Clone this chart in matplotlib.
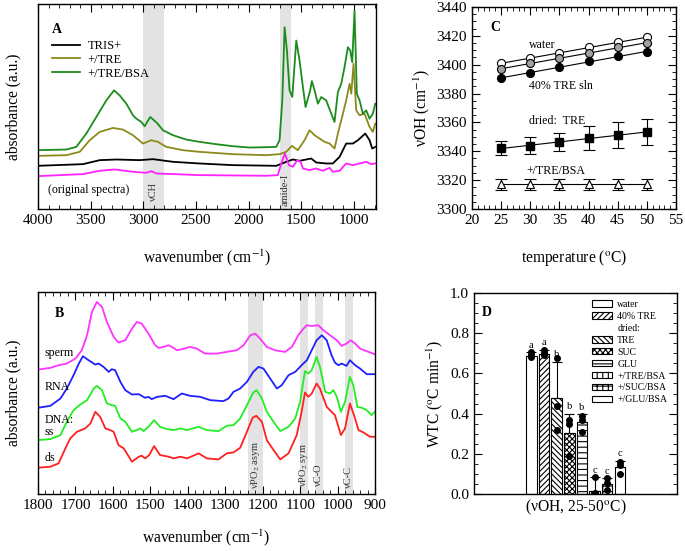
import numpy as np
import matplotlib
matplotlib.use('Agg')
import matplotlib.pyplot as plt
from matplotlib.ticker import MultipleLocator, NullLocator
from matplotlib.patches import Patch

plt.rcParams['font.family'] = ['Liberation Serif', 'DejaVu Serif']
plt.rcParams['mathtext.fontset'] = 'stix'
plt.rcParams['hatch.linewidth'] = 0.8
plt.rcParams['axes.linewidth'] = 1.0

# ---------------- Panel A data (original spectra) ----------------
wnA_bsa = [4000, 3731, 3636, 3541, 3446, 3351, 3278, 3225, 3161, 3098, 3066, 3019, 2987, 2934, 2892, 2870,
           2813, 2718, 2592, 2465, 2307, 2149, 1991, 1832, 1737, 1706, 1680, 1658, 1636, 1611, 1585, 1547,
           1516, 1484, 1459, 1415, 1399, 1373, 1342, 1310, 1263, 1215, 1184, 1152, 1120, 1089, 1057, 1035,
           1016, 994, 972, 946, 915, 883, 851, 820, 797]
absA_bsa = [1.77, 1.79, 1.87, 2.27, 2.77, 3.27, 3.57, 3.42, 3.17, 2.82, 2.72, 2.62, 2.49, 2.77, 2.65, 2.59,
            2.37, 2.22, 2.09, 2.02, 1.95, 1.89, 1.85, 1.86, 1.87, 2.07, 3.27, 5.47, 4.77, 3.57, 3.37, 5.07,
            4.47, 3.67, 3.07, 3.57, 3.85, 3.57, 3.17, 3.37, 3.27, 2.87, 2.62, 3.52, 3.77, 4.27, 4.87, 4.77,
            4.42, 5.97, 3.47, 3.27, 2.87, 2.97, 2.72, 2.87, 3.17]
wnA_tre = [4000, 3731, 3604, 3509, 3414, 3288, 3193, 3098, 3003, 2924, 2861, 2782, 2623, 2465, 2149, 1832,
           1706, 1643, 1589, 1532, 1469, 1421, 1373, 1326, 1278, 1231, 1184, 1152, 1104, 1073, 1041, 1025,
           1003, 978, 946, 899, 851, 820, 797]
absA_tre = [1.60, 1.62, 1.72, 2.07, 2.32, 2.44, 2.39, 2.22, 1.97, 2.07, 2.02, 1.87, 1.77, 1.72, 1.65, 1.62,
            1.65, 1.72, 1.90, 1.77, 2.07, 2.37, 2.22, 2.12, 2.02, 1.97, 1.82, 2.27, 2.87, 3.27, 3.77, 3.47,
            4.37, 2.97, 2.82, 2.87, 2.47, 2.32, 2.57]
wnA_tris = [4000, 3573, 3414, 3256, 3035, 2908, 2718, 2465, 2149, 1737, 1643, 1580, 1516, 1405, 1358, 1263,
            1200, 1136, 1073, 1010, 962, 892, 851, 826, 797]
absA_tris = [1.30, 1.35, 1.47, 1.49, 1.47, 1.50, 1.42, 1.37, 1.32, 1.30, 1.42, 1.49, 1.45, 1.52, 1.40, 1.37,
             1.37, 1.57, 1.97, 1.97, 2.07, 2.27, 2.07, 1.82, 1.87]
wnA_bsa_only = [4000, 3573, 3414, 3272, 3098, 2972, 2924, 2877, 2465, 1832, 1722, 1690, 1655, 1617, 1579,
                1538, 1506, 1484, 1421, 1358, 1294, 1231, 1200, 1136, 1073, 1010, 883, 835, 797]
absA_bsa_only = [0.99, 1.05, 1.15, 1.19, 1.12, 1.09, 1.14, 1.07, 1.02, 1.00, 1.02, 1.37, 1.67, 1.32, 1.27,
                 1.47, 1.42, 1.22, 1.17, 1.22, 1.15, 1.24, 1.12, 1.15, 1.37, 1.32, 1.42, 1.35, 1.37]

# ---------------- Panel B data (normalised spectra) ----------------
wnB_sperm = [1800, 1767, 1745, 1723, 1700, 1683, 1669, 1656, 1643, 1629, 1616, 1598, 1585, 1567, 1549, 1536,
             1523, 1505, 1487, 1478, 1465, 1451, 1438, 1429, 1416, 1394, 1376, 1354, 1322, 1296, 1269, 1251,
             1233, 1220, 1207, 1189, 1167, 1140, 1122, 1105, 1091, 1082, 1069, 1051, 1038, 1020, 1002, 989,
             976, 965, 953, 940, 922, 900]
absB_sperm = [3.74, 3.79, 3.87, 3.92, 4.07, 4.32, 4.77, 5.47, 5.77, 5.62, 5.17, 4.72, 4.55, 4.62, 4.97, 5.17,
              5.12, 4.82, 4.47, 4.39, 4.42, 4.47, 4.39, 4.32, 4.35, 4.42, 4.37, 4.22, 4.22, 4.27, 4.32, 4.47,
              4.77, 4.82, 4.67, 4.42, 4.32, 4.27, 4.42, 4.77, 4.97, 5.07, 5.05, 5.07, 4.92, 4.77, 4.62, 4.45,
              4.52, 4.62, 4.52, 4.37, 4.29, 4.20]
wnB_rna = [1800, 1767, 1740, 1723, 1705, 1691, 1680, 1665, 1647, 1638, 1625, 1611, 1603, 1594, 1580, 1567,
           1549, 1531, 1514, 1505, 1496, 1482, 1460, 1438, 1416, 1394, 1367, 1340, 1305, 1291, 1278, 1260,
           1242, 1225, 1211, 1198, 1180, 1162, 1149, 1131, 1113, 1096, 1082, 1069, 1056, 1042, 1029, 1016,
           1007, 998, 989, 976, 967, 953, 940, 922, 900]
absB_rna = [2.59, 2.65, 2.87, 3.17, 3.57, 3.92, 4.14, 4.02, 3.89, 3.92, 3.82, 3.67, 3.75, 3.72, 3.37, 3.12,
            2.99, 3.00, 2.89, 2.92, 2.85, 2.92, 2.95, 2.85, 3.02, 2.95, 2.92, 2.82, 2.79, 2.87, 3.07, 3.17,
            3.37, 3.67, 3.82, 3.77, 3.47, 3.17, 3.27, 3.57, 3.67, 3.87, 4.02, 4.32, 4.62, 4.77, 4.62, 4.17,
            3.95, 3.87, 3.92, 3.85, 4.02, 3.87, 3.77, 3.60, 3.60]
wnB_ss = [1800, 1767, 1740, 1723, 1705, 1687, 1669, 1651, 1643, 1629, 1616, 1603, 1594, 1580, 1567, 1549,
          1536, 1527, 1518, 1505, 1490, 1474, 1456, 1438, 1420, 1402, 1371, 1349, 1318, 1296, 1278, 1260,
          1242, 1225, 1216, 1202, 1189, 1171, 1153, 1131, 1113, 1100, 1087, 1078, 1069, 1056, 1047, 1033,
          1020, 1011, 1002, 991, 980, 967, 958, 947, 935, 922, 909, 900]
absB_ss = [1.62, 1.65, 1.77, 2.17, 2.52, 2.69, 2.82, 3.17, 3.25, 3.12, 2.72, 2.67, 2.65, 2.27, 2.17, 1.87,
           1.92, 1.97, 1.89, 2.02, 2.22, 2.02, 1.95, 1.92, 1.97, 1.92, 2.02, 1.92, 1.89, 2.05, 2.07, 2.27,
           2.67, 3.05, 3.12, 2.87, 2.47, 2.17, 1.89, 2.02, 2.27, 2.77, 3.69, 3.62, 3.72, 4.12, 3.82, 3.07,
           3.02, 3.12, 2.92, 2.47, 2.77, 3.52, 3.27, 2.62, 2.59, 2.52, 2.37, 2.47]
wnB_ds = [1800, 1767, 1745, 1727, 1714, 1696, 1674, 1660, 1647, 1634, 1620, 1607, 1598, 1585, 1571, 1549,
          1531, 1523, 1514, 1503, 1490, 1474, 1451, 1438, 1420, 1402, 1371, 1349, 1318, 1296, 1278, 1260,
          1242, 1227, 1217, 1202, 1189, 1171, 1153, 1131, 1109, 1096, 1087, 1078, 1069, 1056, 1047, 1029,
          1016, 1007, 991, 980, 967, 956, 944, 931, 913, 900]
absB_ds = [0.79, 0.82, 0.92, 1.37, 1.67, 1.87, 1.97, 2.12, 2.47, 2.32, 1.97, 1.92, 1.87, 1.47, 1.37, 0.97,
           1.12, 1.15, 1.07, 1.17, 1.44, 1.17, 1.12, 1.07, 1.12, 1.07, 1.22, 1.07, 1.04, 1.22, 1.25, 1.39,
           1.87, 2.29, 2.35, 2.17, 1.62, 1.32, 1.04, 1.22, 1.77, 2.47, 3.05, 2.92, 3.02, 3.32, 3.17, 2.62,
           2.47, 2.37, 1.77, 1.97, 2.72, 2.37, 1.92, 1.85, 1.72, 1.72]

# ---------------- Panel C data ----------------
tempC = [25, 30, 35, 40, 45, 50]
vOH_water = [3401.0, 3404.6, 3408.0, 3412.0, 3415.5, 3419.0]
vOH_grey = [3397.0, 3401.0, 3404.6, 3408.0, 3412.0, 3415.0]
vOH_tre40 = [3390.5, 3394.6, 3398.6, 3402.3, 3405.7, 3408.8]
vOH_dried_tre = [3342.0, 3344.0, 3346.5, 3349.0, 3351.3, 3353.2]
err_dried_tre = [4.8, 6.0, 6.2, 8.4, 8.8, 9.0]
vOH_tre_bsa = [3317.0, 3317.0, 3317.0, 3317.0, 3317.0, 3317.0]
err_tre_bsa = [3.5, 3.5, 3.5, 3.5, 3.5, 3.5]

# ---------------- Panel D data ----------------
groupsD = ['water', '40% TRE', 'TRE', 'SUC', 'GLU', '+/TRE/BSA', '+/SUC/BSA', '+/GLU/BSA']
wtc_mean = [0.685, 0.695, 0.478, 0.303, 0.357, 0.015, 0.048, 0.133]
wtc_err = [0.02, 0.023, 0.18, 0.097, 0.041, 0.068, 0.03, 0.032]
wtc_pts = [[0.705, 0.69, 0.68], [0.718, 0.70, 0.69], [0.678, 0.437, 0.32], [0.367, 0.35, 0.19],
           [0.387, 0.367, 0.308], [0.083, 0.005, 0.0], [0.078, 0.053, 0.02], [0.158, 0.145, 0.098]]
wtc_letters = ['a', 'a', 'b', 'b', 'b', 'c', 'c', 'c']

# ---------------- figure ----------------
W, H = 685, 551
fig = plt.figure(figsize=(W / 100, H / 100), dpi=100)


def box(l, t, r, b):
    return [l / W, 1 - b / H, (r - l) / W, (b - t) / H]


band = '#e3e3e3'
TICK = 11
LAB = 11.2
BANDTXT = 7.5
TXT = 8.6

# ---- Panel A ----
axA = fig.add_axes(box(38, 4, 376, 209))
axA.axvspan(3000, 2800, color=band, lw=0, zorder=0)
axA.axvspan(1700, 1600, color=band, lw=0, zorder=0)
axA.plot(wnA_tris, absA_tris, color='black', lw=1.3, label='TRIS+')
axA.plot(wnA_tre, absA_tre, color='#8c8a1c', lw=1.3, label='+/TRE')
axA.plot(wnA_bsa, absA_bsa, color='#1c8c1c', lw=1.3, label='+/TRE/BSA')
axA.plot(wnA_bsa_only, absA_bsa_only, color='#ff22ff', lw=1.3)
axA.set_xlim(4000, 790)
axA.set_ylim(0, 6.17)
axA.xaxis.set_major_locator(MultipleLocator(500))
axA.xaxis.set_minor_locator(MultipleLocator(100))
axA.yaxis.set_major_locator(NullLocator())
axA.tick_params(axis='x', which='both', direction='in', top=True, labelsize=TICK)
axA.tick_params(axis='x', which='major', length=6)
axA.tick_params(axis='x', which='minor', length=3)
axA.set_xlabel('wavenumber (cm$^{-1}$)', fontsize=LAB, labelpad=15)
axA.set_ylabel('absorbance (a.u.)', fontsize=LAB, labelpad=12)
axA.text(3870, 5.39, 'A', fontsize=10, fontweight='bold', va='center')
axA.text(3905, 0.57, '(original spectra)', fontsize=TXT, va='center')
axA.text(2900, 0.52, 'νCH', fontsize=BANDTXT, rotation=90, ha='center', va='center', color='#333333')
axA.text(1650, 0.57, 'amide-I', fontsize=BANDTXT, rotation=90, ha='center', va='center', color='#333333')
axA.legend(loc='upper left', bbox_to_anchor=(0.04, 0.825), frameon=False, fontsize=9,
           handlelength=2.3, labelspacing=0.15, handletextpad=0.6, borderpad=0, borderaxespad=0)

# ---- Panel B ----
axB = fig.add_axes(box(38, 292, 375, 494))
for lo, hi in [(1240, 1200), (1100, 1080), (1060, 1040), (980, 960)]:
    axB.axvspan(lo, hi, color=band, lw=0, zorder=0)
axB.plot(wnB_sperm, absB_sperm, color='#ff33ff', lw=1.3)
axB.plot(wnB_rna, absB_rna, color='#1f1fff', lw=1.3)
axB.plot(wnB_ss, absB_ss, color='#22ee22', lw=1.3)
axB.plot(wnB_ds, absB_ds, color='#ff2020', lw=1.3)
axB.set_xlim(1800, 900)
axB.set_ylim(0, 6.07)
axB.xaxis.set_major_locator(MultipleLocator(100))
axB.xaxis.set_minor_locator(MultipleLocator(20))
axB.yaxis.set_major_locator(NullLocator())
axB.tick_params(axis='x', which='both', direction='in', top=True, labelsize=TICK)
axB.tick_params(axis='x', which='major', length=6)
axB.tick_params(axis='x', which='minor', length=3)
axB.set_xlabel('wavenumber (cm$^{-1}$)', fontsize=LAB, labelpad=11)
axB.set_ylabel('absorbance (a.u.)', fontsize=LAB, labelpad=12)
axB.text(1754, 5.42, 'B', fontsize=10, fontweight='bold', va='center')
for s, yv in [('sperm', 4.25), ('RNA', 3.22), ('DNA:', 2.22), ('ss', 1.87), ('ds', 1.07)]:
    axB.text(1782, yv, s, fontsize=TXT, va='center')
axB.text(1220, 0.87, 'νPO$_2$ asym', fontsize=BANDTXT, rotation=90, ha='center', va='center', color='#333333')
axB.text(1090, 0.87, 'νPO$_2$ sym', fontsize=BANDTXT, rotation=90, ha='center', va='center', color='#333333')
axB.text(1050, 0.57, 'νC-O', fontsize=BANDTXT, rotation=90, ha='center', va='center', color='#333333')
axB.text(970, 0.52, 'νC-C', fontsize=BANDTXT, rotation=90, ha='center', va='center', color='#333333')

# ---- Panel C ----
axC = fig.add_axes(box(472, 7, 676, 209))
tC = np.array(tempC)
for vals, fc in [(vOH_water, 'white'), (vOH_grey, '#a0a0a0'), (vOH_tre40, 'black')]:
    p = np.polyfit(tC, vals, 1)
    axC.plot(tC, np.polyval(p, tC), color='black', lw=0.8, zorder=2)
    axC.plot(tC, vals, 'o', mfc=fc, mec='black', ms=5.8, mew=0.8, zorder=3)
p = np.polyfit(tC, vOH_dried_tre, 1)
axC.plot(tC, np.polyval(p, tC), color='black', lw=0.8, zorder=2)
axC.errorbar(tC, vOH_dried_tre, yerr=err_dried_tre, fmt='s', mfc='black', mec='black', ms=5.2,
             ecolor='black', elinewidth=0.8, capsize=4, capthick=0.8, zorder=3)
axC.plot(tC, vOH_tre_bsa, color='black', lw=0.8, zorder=2)
axC.errorbar(tC, vOH_tre_bsa, yerr=err_tre_bsa, fmt='^', mfc='white', mec='black', ms=5.5, mew=0.8,
             ecolor='black', elinewidth=0.8, capsize=4, capthick=0.8, zorder=3)
axC.set_xlim(20, 55)
axC.set_ylim(3300, 3440)
axC.xaxis.set_major_locator(MultipleLocator(5))
axC.xaxis.set_minor_locator(MultipleLocator(1))
axC.yaxis.set_major_locator(MultipleLocator(20))
axC.yaxis.set_minor_locator(MultipleLocator(5))
axC.tick_params(which='both', direction='in', top=True, right=True, labelsize=TICK)
axC.tick_params(which='major', length=6)
axC.tick_params(which='minor', length=3)
axC.set_xlabel('temperature ($^{\\mathrm{o}}$C)', fontsize=LAB, labelpad=15)
axC.set_ylabel('νOH (cm$^{-1}$)', fontsize=LAB, labelpad=3)
axC.text(23.2, 3425.5, 'C', fontsize=10, fontweight='bold', va='center')
axC.text(29.7, 3414, 'water', fontsize=TXT, va='center')
axC.text(29.7, 3385, '40% TRE sln', fontsize=TXT, va='center')
axC.text(29.7, 3361, 'dried:  TRE', fontsize=TXT, va='center')
axC.text(29.4, 3326, '+/TRE/BSA', fontsize=TXT, va='center')

# ---- Panel D ----
axD = fig.add_axes(box(474, 293, 677, 494))
hatches = [None, '//////', '\\\\\\\\\\\\', 'xxxxxx', '---', '|||', '+++', None]
xD = np.arange(len(groupsD))
bars = axD.bar(xD, wtc_mean, width=0.84, color='white', edgecolor='black', lw=0.8, zorder=2)
for b, h in zip(bars, hatches):
    if h:
        b.set_hatch(h)
axD.errorbar(xD, wtc_mean, yerr=[np.zeros(len(xD)), wtc_err], fmt='none', ecolor='black',
             elinewidth=0.8, capsize=3.5, capthick=0.8, zorder=3)
for i, pts in enumerate(wtc_pts):
    axD.plot([xD[i]] * len(pts), pts, 'o', color='black', ms=4, zorder=4)
for i, let in enumerate(wtc_letters):
    axD.text(xD[i], wtc_mean[i] + wtc_err[i] + 0.012, let, fontsize=7.5, ha='center', va='bottom')
axD.set_xlim(-4.53, 11.52)
axD.set_ylim(0, 1.0)
axD.xaxis.set_major_locator(NullLocator())
axD.yaxis.set_major_locator(MultipleLocator(0.2))
axD.yaxis.set_minor_locator(MultipleLocator(0.05))
axD.yaxis.set_major_formatter(matplotlib.ticker.FormatStrFormatter('%.1f'))
axD.tick_params(axis='y', which='both', direction='in', right=True, labelsize=TICK)
axD.tick_params(axis='y', which='major', length=6)
axD.tick_params(axis='y', which='minor', length=3)
axD.set_ylabel('WTC ($^{\\mathrm{o}}$C min$^{-1}$)', fontsize=LAB, labelpad=4)
axD.set_xlabel('(νOH, 25-50$^{\\mathrm{o}}$C)', fontsize=LAB, labelpad=3)
axD.text(-3.9, 0.905, 'D', fontsize=10, fontweight='bold', va='center')

handles = []
labels = []
for i, g in enumerate(groupsD):
    if i == 2:
        handles.append(Patch(facecolor='none', edgecolor='none'))
        labels.append('dried:')
    handles.append(Patch(facecolor='white', edgecolor='black', lw=0.8, hatch=hatches[i]))
    labels.append(g)
axD.legend(handles, labels, loc='upper left', bbox_to_anchor=((592 - 474) / 203, 0.965), frameon=False,
           fontsize=7, handlelength=2.1, handleheight=0.62, labelspacing=0.3, handletextpad=0.5,
           borderpad=0, borderaxespad=0)

fig.savefig('out.png', dpi=100)
